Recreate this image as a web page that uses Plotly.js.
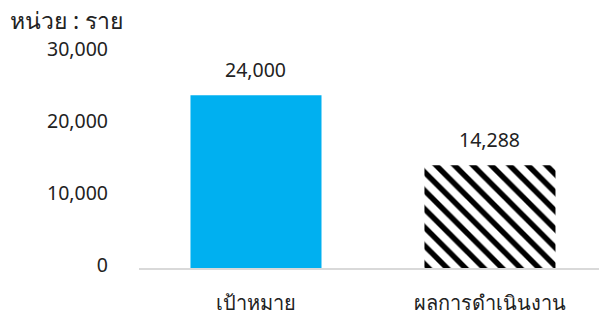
<!DOCTYPE html>
<html>
<head>
<meta charset="utf-8">
<script src="https://cdn.plot.ly/plotly-3.0.1.min.js"></script>
<style>html,body{margin:0;padding:0;background:#fff}#chart{width:599px;height:318px}</style>
</head>
<body>
<div id="chart"></div>
<script>
const categories = ["เป้าหมาย", "ผลการดำเนินงาน"];
const values = [24000, 14288];
const valueLabels = ["24,000", "14,288"];
const yTicks = [0, 10000, 20000, 30000];
const yTickLabels = ["0", "10,000", "20,000", "30,000"];
const unitLabel = "หน่วย : ราย";

const font = "'Noto Sans', 'DejaVu Sans', sans-serif";
const txt = "#222";

const traces = [
  {
    type: "bar",
    x: [categories[0]],
    y: [values[0]],
    width: 0.56,
    marker: {color: "#00b0f0", line: {width: 0}},
    hoverinfo: "none"
  },
  {
    type: "bar",
    x: [categories[1]],
    y: [values[1]],
    width: 0.56,
    marker: {
      color: "#ffffff",
      pattern: {shape: "\\", fgcolor: "#000000", bgcolor: "#ffffff", size: 13, solidity: 0.42},
      line: {width: 0}
    },
    hoverinfo: "none"
  }
];

const annotations = categories.map((c, i) => ({
  x: c, y: values[i], xref: "x", yref: "y",
  text: valueLabels[i], showarrow: false,
  yanchor: "bottom", yshift: 10,
  font: {family: font, size: 19.5, color: txt}
}));
annotations.push({
  text: unitLabel,
  xref: "paper", yref: "paper",
  x: 0, y: 1,
  xshift: -131, yshift: 32,
  xanchor: "left", yanchor: "middle",
  showarrow: false,
  font: {family: font, size: 23, color: txt}
});

const layout = {
  width: 599,
  height: 318,
  margin: {l: 139, r: 0, t: 52, b: 50},
  paper_bgcolor: "#fff",
  plot_bgcolor: "#fff",
  showlegend: false,
  barmode: "overlay",
  font: {family: font, size: 19.5, color: txt},
  xaxis: {
    type: "category",
    categoryarray: categories,
    range: [-0.5, 1.466],
    showline: true,
    linecolor: "#d9d9d9",
    linewidth: 1.5,
    ticks: "",
    showgrid: false,
    zeroline: false,
    ticklabelstandoff: 16,
    tickfont: {family: font, size: 20, color: txt}
  },
  yaxis: {
    range: [0, 30000],
    tickvals: yTicks,
    ticktext: yTickLabels,
    showgrid: false,
    zeroline: false,
    showline: false,
    ticks: "",
    ticklabelstandoff: 30,
    ticklabelshift: -3,
    tickfont: {family: font, size: 19.5, color: txt}
  },
  annotations: annotations
};

Plotly.newPlot("chart", traces, layout, {displayModeBar: false, staticPlot: true});
</script>
</body>
</html>
